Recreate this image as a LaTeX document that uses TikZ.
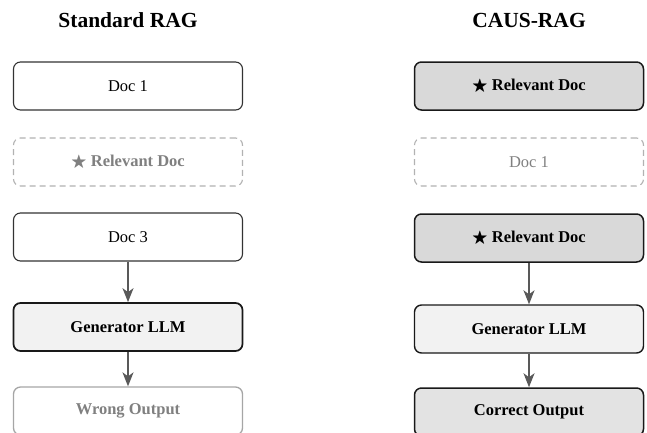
\documentclass[tikz,border=0pt]{standalone}
\usepackage{fontspec}
\usepackage{amssymb}
\setmainfont{Liberation Serif}
\usetikzlibrary{arrows.meta}

\begin{document}
\begin{tikzpicture}[x=1pt,y=-1pt,every node/.style={font=\fontsize{16.5}{19}\selectfont}]
    \tikzset{
      title/.style={font=\fontsize{21.5}{24}\selectfont\bfseries},
      doc/.style={draw=black!80,rectangle,rounded corners=7pt,line width=1.1pt,
        fill=white,minimum width=229pt,minimum height=48pt},
      ghost/.style={doc,draw=gray!60,dash pattern=on 6pt off 4pt,text=gray},
      gen/.style={doc,draw=black!90,fill=gray!10,line width=1.7pt,font=\fontsize{16.5}{19}\selectfont\bfseries},
      rel/.style={doc,draw=black!90,fill=gray!30,line width=1.5pt,font=\fontsize{16.5}{19}\selectfont\bfseries},
      good/.style={doc,draw=black!90,fill=gray!22,line width=1.5pt,font=\fontsize{16.5}{19}\selectfont\bfseries},
      bad/.style={doc,draw=gray!70,text=gray,line width=1.3pt,font=\fontsize{16.5}{19}\selectfont\bfseries},
      arr/.style={-{Stealth[length=14pt,width=11pt,inset=4pt]},line width=1.6pt,black!65}
    }
    \useasboundingbox (0,0) rectangle (647,432);
    \clip (0,0) rectangle (647,432);

    % standard pipeline
    \node[title] (ltitle) at (128,20) {Standard RAG};
    \node[doc] (ldoca) at (128,86) {Doc 1};
    \node[ghost,font=\fontsize{16.5}{19}\selectfont\bfseries] (lrel) at (128,162) {$\bigstar$ Relevant Doc};
    \node[doc] (ldocc) at (128,237) {Doc 3};
    \node[gen] (lgen) at (128,327) {Generator LLM};
    \node[bad] (lout) at (128,411) {Wrong Output};
    \draw[arr] (ldocc) -- (lgen);
    \draw[arr] (lgen) -- (lout);

    % causal pipeline
    \node[title] (rtitle) at (529,20) {CAUS-RAG};
    \node[rel] (rrela) at (529,86) {$\bigstar$ Relevant Doc};
    \node[ghost] (rdoca) at (529,162) {Doc 1};
    \node[rel] (rrelb) at (529,238) {$\bigstar$ Relevant Doc};
    \node[gen,line width=1.4pt] (rgen) at (529,329) {Generator LLM};
    \node[good] (rout) at (529,412) {Correct Output};
    \draw[arr] (rrelb) -- (rgen);
    \draw[arr] (rgen) -- (rout);
  \end{tikzpicture}
\end{document}
